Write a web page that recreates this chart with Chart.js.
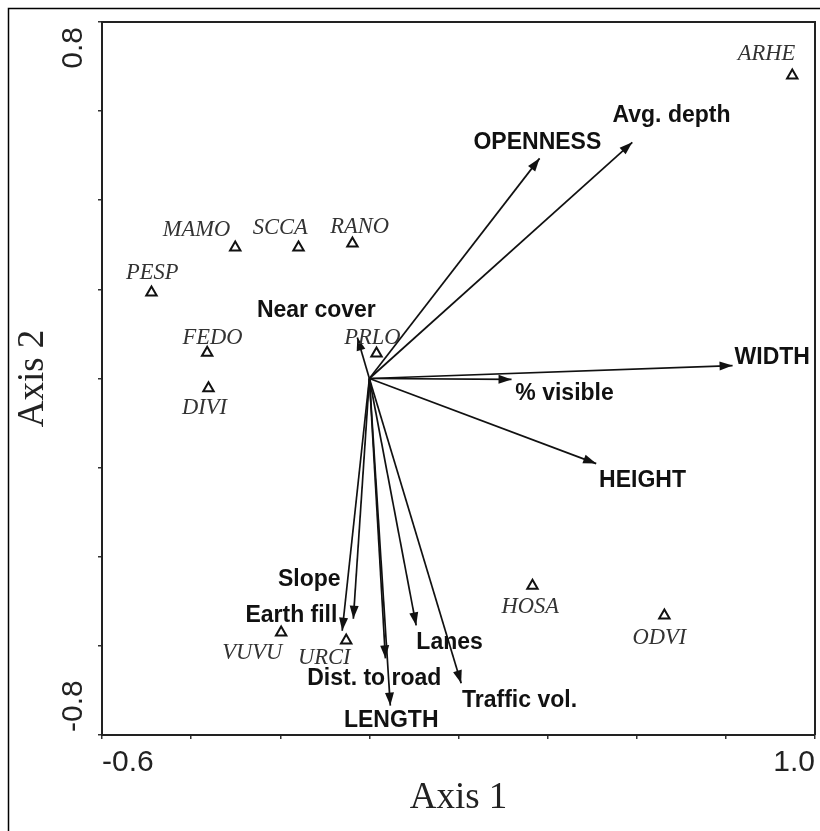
<!DOCTYPE html>
<html>
<head>
<meta charset="utf-8">
<script src="https://cdn.jsdelivr.net/npm/chart.js@4"></script>
<style>
  html, body { margin: 0; padding: 0; background: #fff; }
  #wrap { position: relative; width: 820px; height: 831px; }
</style>
</head>
<body>
<div id="wrap"><canvas id="c"></canvas></div>
<script>
// ---- Data ----
const speciesNames = ['ARHE','MAMO','SCCA','RANO','PESP','FEDO','DIVI','PRLO','VUVU','URCI','HOSA','ODVI'];
const speciesX     = [0.949, -0.301, -0.159, -0.038, -0.489, -0.364, -0.361, 0.016, -0.198, -0.052, 0.366, 0.662];
const speciesY     = [0.680,  0.294,  0.294,  0.303,  0.193,  0.058, -0.022, 0.056, -0.570, -0.588, -0.465, -0.532];
const speciesLabelX = [0.891, -0.388, -0.200, -0.022, -0.487, -0.352, -0.370, 0.007, -0.263, -0.101, 0.361, 0.651];
const speciesLabelY = [0.729,  0.332,  0.337,  0.339,  0.236,  0.090, -0.067, 0.090, -0.617, -0.628, -0.514, -0.583];

const envNames  = ['OPENNESS','Avg. depth','WIDTH','% visible','HEIGHT','Near cover','Slope','Earth fill','Lanes','Dist. to road','LENGTH','Traffic vol.'];
const envX      = [0.382, 0.590, 0.815, 0.319, 0.509, -0.027, -0.036, -0.061, 0.105, 0.036, 0.047, 0.206];
const envY      = [0.494, 0.530, 0.029, -0.002, -0.191, 0.092, -0.539, -0.566, -0.554, -0.628, -0.734, -0.684];
const envLabelX = [0.377, 0.678, 0.904, 0.438, 0.613, -0.119, -0.135, -0.175, 0.180, 0.011, 0.049, 0.337];
const envLabelY = [0.530, 0.590, 0.047, -0.034, -0.229, 0.153, -0.451, -0.532, -0.592, -0.673, -0.768, -0.723];

const xMin = -0.6, xMax = 1.0, yMin = -0.8, yMax = 0.8, tickStep = 0.2;
const xTickLabels = ['-0.6', '1.0'];
const yTickLabels = ['-0.8', '0.8'];
const xTitle = 'Axis 1', yTitle = 'Axis 2';

// ---- Styles ----
const INK = '#111';
const SANS = '"Liberation Sans", Arial, sans-serif';
const SERIF = '"Liberation Serif", "Times New Roman", serif';

const datasets = [];
datasets.push({
  label: 'species',
  data: speciesX.map((x, i) => ({x, y: speciesY[i]})),
  pointStyle: 'triangle',
  pointRadius: 6,
  pointBorderWidth: 2,
  pointBorderColor: INK,
  pointBackgroundColor: '#fff',
  showLine: false,
  order: 0
});
envX.forEach((x, i) => {
  datasets.push({
    label: envNames[i],
    data: [{x: 0, y: 0}, {x, y: envY[i]}],
    showLine: true,
    borderColor: INK,
    borderWidth: 1.7,
    pointRadius: 0,
    order: 1
  });
});

const framePlugin = {
  id: 'frame',
  beforeDraw(chart) {
    const ctx = chart.ctx;
    ctx.save();
    ctx.fillStyle = '#fff';
    ctx.fillRect(0, 0, chart.width, chart.height);
    ctx.strokeStyle = '#000';
    ctx.lineWidth = 1.5;
    ctx.beginPath();
    ctx.moveTo(8.5, chart.height + 2);
    ctx.lineTo(8.5, 8.5);
    ctx.lineTo(chart.width + 2, 8.5);
    ctx.stroke();
    ctx.restore();
  },
  afterDraw(chart) {
    const ctx = chart.ctx, a = chart.chartArea;
    ctx.save();
    ctx.strokeStyle = '#222';
    ctx.lineWidth = 2;
    ctx.beginPath();
    ctx.moveTo(a.left, a.top);
    ctx.lineTo(a.right, a.top);
    ctx.lineTo(a.right, a.bottom);
    ctx.stroke();
    const ys = chart.scales.y;
    ctx.fillStyle = '#222';
    ctx.font = '30px ' + SANS;
    ctx.textBaseline = 'middle';
    ctx.save();
    ctx.translate(74, ys.getPixelForValue(yMax) + 5);
    ctx.rotate(-Math.PI / 2);
    ctx.textAlign = 'right';
    ctx.fillText(yTickLabels[1], 0, 0);
    ctx.restore();
    ctx.save();
    ctx.translate(74, ys.getPixelForValue(yMin) - 3);
    ctx.rotate(-Math.PI / 2);
    ctx.textAlign = 'left';
    ctx.fillText(yTickLabels[0], 0, 0);
    ctx.restore();
    ctx.restore();
  }
};

const labelPlugin = {
  id: 'labels',
  afterDatasetsDraw(chart) {
    const ctx = chart.ctx;
    const xs = chart.scales.x, ys = chart.scales.y;
    ctx.save();
    const ox = xs.getPixelForValue(0), oy = ys.getPixelForValue(0);
    ctx.fillStyle = INK;
    envX.forEach((x, i) => {
      const tx = xs.getPixelForValue(x), ty = ys.getPixelForValue(envY[i]);
      const ang = Math.atan2(ty - oy, tx - ox);
      const L = 13, W = 4.5;
      ctx.beginPath();
      ctx.moveTo(tx, ty);
      ctx.lineTo(tx - L * Math.cos(ang) + W * Math.sin(ang), ty - L * Math.sin(ang) - W * Math.cos(ang));
      ctx.lineTo(tx - L * Math.cos(ang) - W * Math.sin(ang), ty - L * Math.sin(ang) + W * Math.cos(ang));
      ctx.closePath();
      ctx.fill();
    });
    ctx.textAlign = 'center';
    ctx.textBaseline = 'middle';
    ctx.font = 'bold 23px ' + SANS;
    ctx.fillStyle = INK;
    envNames.forEach((n, i) => {
      ctx.fillText(n, xs.getPixelForValue(envLabelX[i]), ys.getPixelForValue(envLabelY[i]));
    });
    ctx.font = 'italic 22.5px ' + SERIF;
    ctx.fillStyle = '#333';
    speciesNames.forEach((n, i) => {
      ctx.fillText(n, xs.getPixelForValue(speciesLabelX[i]), ys.getPixelForValue(speciesLabelY[i]));
    });
    ctx.restore();
  }
};

new Chart(document.getElementById('c'), {
  type: 'scatter',
  data: { datasets },
  options: {
    responsive: true,
    maintainAspectRatio: false,
    animation: false,
    events: [],
    layout: { autoPadding: false, padding: { left: 0, top: 22, right: 5, bottom: 0 } },
    plugins: { legend: { display: false }, tooltip: { enabled: false } },
    scales: {
      x: {
        type: 'linear', position: 'bottom',
        min: xMin, max: xMax,
        afterFit(s) { s.height = 96; s.paddingLeft = 0; s.paddingRight = 0; },
        grid: { display: true, drawOnChartArea: false, drawTicks: true, tickLength: 4, color: '#333', lineWidth: 1.5 },
        border: { display: true, color: '#222', width: 2 },
        ticks: {
          stepSize: tickStep,
          autoSkip: false,
          maxRotation: 0,
          align: 'inner',
          padding: 6,
          color: '#222',
          font: { family: SANS, size: 30 },
          callback(v, i, t) {
            if (i === 0) return xTickLabels[0];
            if (i === t.length - 1) return xTickLabels[1];
            return '';
          }
        },
        title: { display: true, text: xTitle, color: '#222', font: { family: SERIF, size: 37 }, padding: { top: 0, bottom: 11 } }
      },
      y: {
        type: 'linear', position: 'left',
        min: yMin, max: yMax,
        afterFit(s) { s.width = 102; s.paddingTop = 0; s.paddingBottom = 0; },
        grid: { display: true, drawOnChartArea: false, drawTicks: true, tickLength: 4, color: '#333', lineWidth: 1.5 },
        border: { display: true, color: '#222', width: 2 },
        ticks: { stepSize: tickStep, autoSkip: false, callback() { return ''; } },
        title: { display: true, text: yTitle, color: '#222', font: { family: SERIF, size: 37 }, padding: { top: 11, bottom: 0 } }
      }
    }
  },
  plugins: [framePlugin, labelPlugin]
});
</script>
</body>
</html>
